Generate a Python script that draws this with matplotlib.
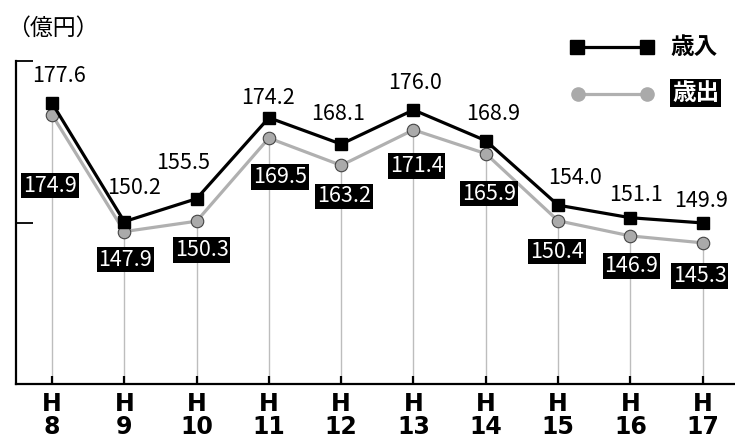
import matplotlib
matplotlib.use('Agg')
import matplotlib.pyplot as plt

plt.rcParams['font.family'] = ['Noto Sans CJK JP', 'DejaVu Sans']

anos = ['8', '9', '10', '11', '12', '13', '14', '15', '16', '17']
receita = [177.6, 150.2, 155.5, 174.2, 168.1, 176.0, 168.9, 154.0, 151.1, 149.9]
despesa = [174.9, 147.9, 150.3, 169.5, 163.2, 171.4, 165.9, 150.4, 146.9, 145.3]

# deslocamento dos rotulos em pixels (dx, dy)
offRec = [(7, 27), (10, 34), (-13, 36), (-1, 20), (-3, 30), (2, 27), (7, 27), (17, 27), (6, 23), (-2, 22)]
offDes = [(-2, -71), (1, -28), (5, -29), (11, -39), (3, -31), (3, -36), (3, -40), (-1, -31), (1, -30), (-3, -33)]

fig = plt.figure(figsize=(7.35, 4.38), dpi=100)
ax = fig.add_axes([16/735, 1 - 384/438, 719/735, 323/438])

x = list(range(len(anos)))
ymin, ymax = 112.7, 187.3

ax.vlines(x, ymin, despesa, color='#bdbdbd', lw=1, zorder=1)
ax.plot(x, despesa, color='#b0b0b0', lw=2.3, marker='o', ms=9,
        mfc='#aaaaaa', mec='#444444', mew=0.8, zorder=3, clip_on=False)
ax.plot(x, receita, color='black', lw=2.3, marker='s', ms=8.5,
        mfc='black', mec='black', zorder=4, clip_on=False)

for i in x:
    ax.annotate(f'{receita[i]:.1f}', (i, receita[i]), xytext=offRec[i],
                textcoords='offset pixels', ha='center', va='center',
                fontsize=15.5, color='black', zorder=5)
    ax.annotate(f'{despesa[i]:.1f}', (i, despesa[i]), xytext=offDes[i],
                textcoords='offset pixels', ha='center', va='center',
                fontsize=15.5, color='white', zorder=5,
                bbox=dict(boxstyle='square,pad=0.08', fc='black', ec='none'))

ax.set_xlim(-0.498, 9.447)
ax.set_ylim(ymin, ymax)

for s in ['top', 'right']:
    ax.spines[s].set_visible(False)
ax.spines['left'].set_linewidth(1.6)
ax.spines['bottom'].set_linewidth(1.6)

ax.set_yticks([150, ymax])
ax.set_yticklabels([])
ax.tick_params(axis='y', direction='in', length=12, width=1.3)

ax.set_xticks(x)
ax.set_xticklabels(['H\n' + a for a in anos], fontsize=17, fontweight='bold',
                   family=['DejaVu Sans'], linespacing=0.92)
ax.tick_params(axis='x', direction='in', length=6, width=1.6, pad=6)

fig.text(7/735, 1 - 28/438, '（億円）', fontsize=16.5, va='center', ha='left')

# legenda
fig.lines.append(plt.Line2D([577/735, 647/735], [1 - 47/438] * 2, transform=fig.transFigure,
                            color='black', lw=2.3, marker='s', ms=9.5))
fig.lines.append(plt.Line2D([578/735, 647/735], [1 - 94/438] * 2, transform=fig.transFigure,
                            color='#b0b0b0', lw=2.3, marker='o', ms=9.5, mfc='#aaaaaa', mec='#aaaaaa'))
fig.text(670/735, 1 - 47/438, '歳入', fontsize=17, fontweight='bold', va='center', ha='left')
fig.text(672/735, 1 - 93/438, '歳出', fontsize=17, fontweight='bold', va='center', ha='left',
         color='white', bbox=dict(boxstyle='square,pad=0.08', fc='black', ec='none'))

plt.savefig('out.png', dpi=100)
plt.close()
